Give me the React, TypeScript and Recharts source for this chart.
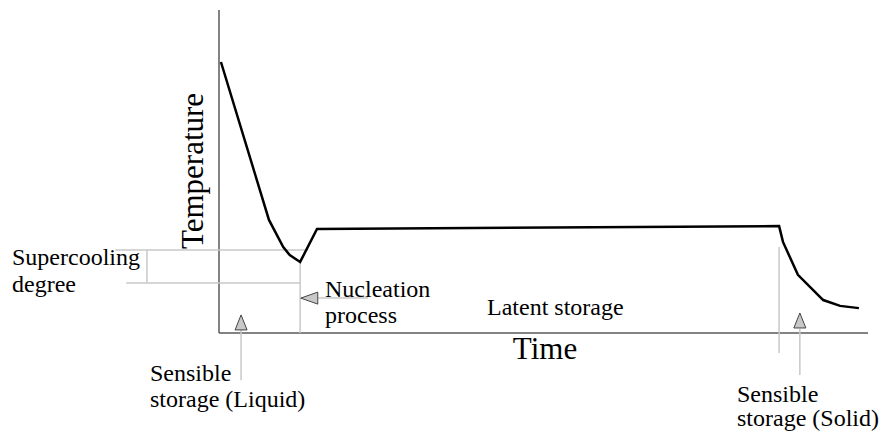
import { LineChart, Line, XAxis, YAxis, ReferenceLine, ReferenceDot } from 'recharts';

// Cooling curve (arbitrary units: time 0-100, temperature 0-100)
const time = [0.3, 7.7, 9.9, 10.9, 12.5, 15.1, 86.3, 86.9, 89.2, 93.1, 95.7, 98.6];
const temperature = [83.9, 35.0, 26.6, 24.1, 22.0, 32.2, 33.1, 28.2, 18.0, 10.2, 8.4, 7.7];

const data = time.map((t, i) => ({ time: t, temp: temperature[i] }));

// annotation guide positions (data units)
const supercoolTop = 25.7;
const supercoolBottom = 15.5;
const nucleationTime = 12.5;
const solidStart = 86.3;
const liquidArrowTime = 3.4;
const solidArrowTime = 89.5;
const nucleationArrowTemp = 10.8;

const GUIDE = '#c8c8c8';
const AXIS = '#5a5a5a';
const FONT = '"Liberation Serif", "Times New Roman", serif';

const UpArrow = (props: any) => {
  const { cx, cy } = props;
  return (
    <path
      d={`M${cx},${cy} L${cx - 6},${cy + 15} L${cx + 6},${cy + 15} Z`}
      fill="#c8c8c8"
      stroke="#444"
      strokeWidth={1}
    />
  );
};

const LeftArrow = (props: any) => {
  const { cx, cy } = props;
  return (
    <path
      d={`M${cx},${cy} L${cx + 17},${cy - 6} L${cx + 17},${cy + 6} Z`}
      fill="#c8c8c8"
      stroke="#444"
      strokeWidth={1}
    />
  );
};

export default function App() {
  return (
    <div style={{ position: 'absolute', left: 0, top: 0, width: 881, height: 432, background: '#fff' }}>
      <LineChart
        width={881}
        height={432}
        data={data}
        margin={{ top: 10, right: 13, bottom: 99, left: 219 }}
      >
        <XAxis dataKey="time" type="number" domain={[0, 100]} hide />
        <YAxis type="number" domain={[0, 100]} hide />

        {/* axes */}
        <ReferenceLine x={0} stroke={AXIS} strokeWidth={1.5} />
        <ReferenceLine y={0} stroke={AXIS} strokeWidth={1.5} />

        {/* supercooling degree bracket */}
        <ReferenceLine ifOverflow="visible" stroke={GUIDE} strokeWidth={1.5}
          segment={[{ x: -16, y: supercoolTop }, { x: 13.7, y: supercoolTop }]} />
        <ReferenceLine ifOverflow="visible" stroke={GUIDE} strokeWidth={1.5}
          segment={[{ x: -14.3, y: supercoolBottom }, { x: nucleationTime, y: supercoolBottom }]} />
        <ReferenceLine ifOverflow="visible" stroke={GUIDE} strokeWidth={1.5}
          segment={[{ x: -11.1, y: supercoolTop }, { x: -11.1, y: supercoolBottom }]} />

        {/* phase boundaries */}
        <ReferenceLine ifOverflow="visible" stroke={GUIDE} strokeWidth={1.5}
          segment={[{ x: nucleationTime, y: 22 }, { x: nucleationTime, y: 0 }]} />
        <ReferenceLine ifOverflow="visible" stroke={GUIDE} strokeWidth={1.5}
          segment={[{ x: solidStart, y: 26.6 }, { x: solidStart, y: -6.2 }]} />

        {/* arrow stems */}
        <ReferenceLine ifOverflow="visible" stroke={GUIDE} strokeWidth={1.5}
          segment={[{ x: 15.3, y: nucleationArrowTemp }, { x: 23, y: nucleationArrowTemp }]} />
        <ReferenceLine ifOverflow="visible" stroke={GUIDE} strokeWidth={1.5}
          segment={[{ x: liquidArrowTime, y: 1.2 }, { x: liquidArrowTime, y: -14.6 }]} />
        <ReferenceLine ifOverflow="visible" stroke={GUIDE} strokeWidth={1.5}
          segment={[{ x: solidArrowTime, y: 1.2 }, { x: solidArrowTime, y: -13 }]} />

        <ReferenceDot ifOverflow="visible" x={nucleationTime + 0.1} y={nucleationArrowTemp} shape={LeftArrow} />
        <ReferenceDot ifOverflow="visible" x={liquidArrowTime} y={5.6} shape={UpArrow} />
        <ReferenceDot ifOverflow="visible" x={solidArrowTime} y={6.2} shape={UpArrow} />

        <Line
          type="linear"
          dataKey="temp"
          stroke="#000"
          strokeWidth={2.5}
          dot={false}
          isAnimationActive={false}
        />
      </LineChart>

      <svg
        width={881}
        height={432}
        style={{ position: 'absolute', left: 0, top: 0, pointerEvents: 'none', fontFamily: FONT }}
        fill="#000"
      >
        <text x={203} y={171} fontSize={31} textAnchor="middle" transform="rotate(-90 203 171)">Temperature</text>
        <text x={545} y={359} fontSize={31} textAnchor="middle">Time</text>
        <text x={12} y={265} fontSize={24}>Supercooling</text>
        <text x={12} y={292} fontSize={24}>degree</text>
        <text x={325} y={297} fontSize={24}>Nucleation</text>
        <text x={325} y={323} fontSize={24}>process</text>
        <text x={487} y={315} fontSize={24}>Latent storage</text>
        <text x={150} y={381} fontSize={24}>Sensible</text>
        <text x={150} y={407} fontSize={24}>storage (Liquid)</text>
        <text x={737} y={402} fontSize={24}>Sensible</text>
        <text x={737} y={426} fontSize={24}>storage (Solid)</text>
      </svg>
    </div>
  );
}
